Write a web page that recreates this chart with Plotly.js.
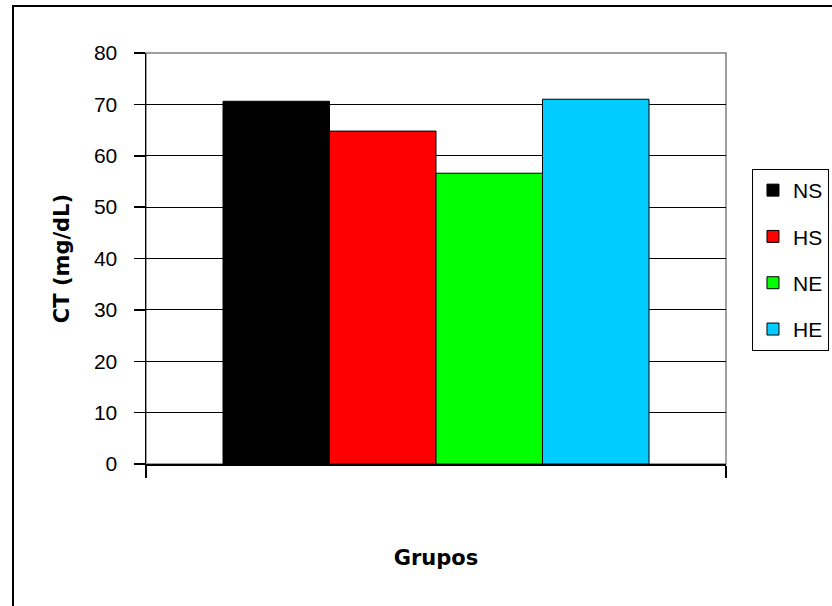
<!DOCTYPE html>
<html>
<head>
<meta charset="utf-8">
<script src="https://cdn.plot.ly/plotly-3.0.1.min.js"></script>
<style>
  html, body { margin: 0; padding: 0; background: #ffffff; }
  #chart { width: 832px; height: 606px; }
</style>
</head>
<body>
<div id="chart"></div>
<script>
// Grupos experimentales y colesterol total (mg/dL)
const grupos = ['NS', 'HS', 'NE', 'HE'];
const ct = [70.6, 64.8, 56.6, 71.0];
const colores = ['#000000', '#ff0000', '#00ff00', '#00ccff'];
const yTicks = [0, 10, 20, 30, 40, 50, 60, 70, 80];

const FONT = 'Arial, "Liberation Sans", sans-serif';
const FONT_TITLE = '"DejaVu Sans", Verdana, sans-serif';

const traces = grupos.map((g, i) => ({
  type: 'bar',
  name: g,
  x: [0],
  y: [ct[i]],
  legendgroup: g,
  marker: { color: colores[i], line: { color: '#000000', width: 1 } },
  hoverinfo: 'name+y'
}));

const layout = {
  width: 832,
  height: 606,
  margin: { l: 146, r: 106, t: 53, b: 142, autoexpand: false },
  paper_bgcolor: '#ffffff',
  plot_bgcolor: '#ffffff',
  font: { family: FONT, color: '#000000', size: 20 },
  barmode: 'group',
  bargap: 0.2655,
  bargroupgap: 0,
  xaxis: {
    type: 'linear',
    range: [-0.5, 0.5],
    tickvals: [-0.5, 0.5],
    ticktext: ['', ''],
    ticks: 'outside',
    ticklen: 12,
    tickwidth: 1.5,
    tickcolor: '#000000',
    showgrid: false,
    zeroline: false,
    showline: true,
    linecolor: '#000000',
    linewidth: 1.5,
    fixedrange: true,
    title: { text: 'Grupos', font: { family: FONT_TITLE, size: 21, weight: 'bold' }, standoff: 70 }
  },
  yaxis: {
    range: [0, 80],
    tickvals: yTicks,
    ticktext: yTicks.map(String),
    ticks: 'outside',
    ticklen: 11,
    tickwidth: 1.5,
    tickcolor: '#000000',
    ticklabelstandoff: 12,
    tickfont: { family: FONT, size: 21 },
    showgrid: true,
    gridcolor: '#000000',
    gridwidth: 1,
    zeroline: false,
    showline: true,
    linecolor: '#000000',
    linewidth: 1.5,
    fixedrange: true,
    title: { text: 'CT (mg/dL)', font: { family: FONT_TITLE, size: 21, weight: 'bold' }, standoff: 18 }
  },
  showlegend: true,
  legend: {
    x: 1.0448,
    y: 0.7178,
    xanchor: 'left',
    yanchor: 'top',
    bgcolor: '#ffffff',
    bordercolor: '#000000',
    borderwidth: 1,
    font: { family: FONT, size: 21, color: '#000000' },
    traceorder: 'grouped',
    tracegroupgap: 16,
    itemwidth: 30
  },
  shapes: [
    // borde del área de trazado (gris)
    { type: 'rect', xref: 'paper', yref: 'paper', x0: 0, x1: 1, y0: 0, y1: 1,
      line: { color: '#808080', width: 1.5 }, layer: 'below' },
    // marco exterior del gráfico
    { type: 'rect', xref: 'paper', yref: 'paper', x0: -0.2293, x1: 1.2, y0: -0.4, y1: 1.1144,
      line: { color: '#000000', width: 2 }, layer: 'below' }
  ]
};

Plotly.newPlot('chart', traces, layout, { displayModeBar: false, staticPlot: true });
</script>
</body>
</html>
